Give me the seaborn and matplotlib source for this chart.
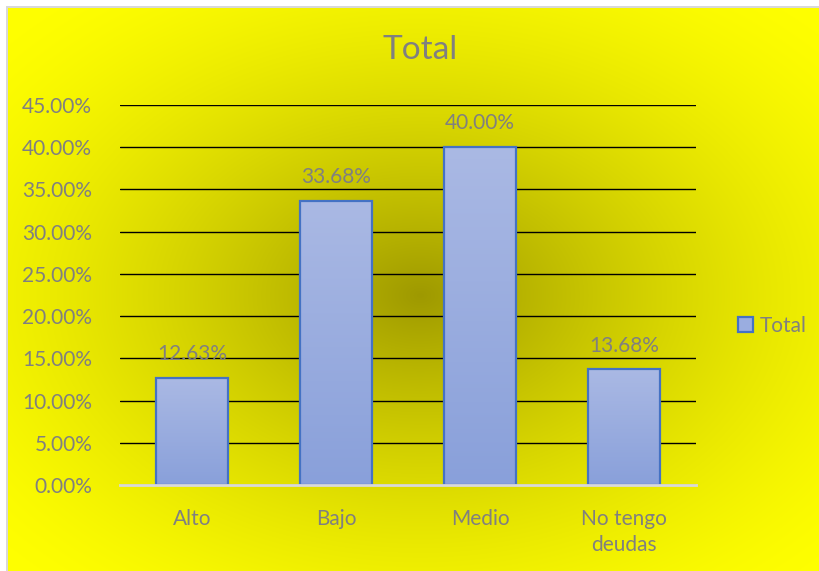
import numpy as np
import pandas as pd
import matplotlib
matplotlib.use("Agg")
import matplotlib.pyplot as plt
import seaborn as sns
from matplotlib.patches import Patch
from matplotlib.ticker import FuncFormatter, MultipleLocator

# Data
categories = ["Alto", "Bajo", "Medio", "No tengo\ndeudas"]
values = [0.1263, 0.3368, 0.4000, 0.1368]
series_name = "Total"

df = pd.DataFrame({"categoria": categories, "valor": values})

sns.set_theme(style="white")
plt.rcParams["font.family"] = ["Lato", "DejaVu Sans"]

W, H = 819, 571
fig = plt.figure(figsize=(W / 100, H / 100), dpi=100)
fig.patch.set_facecolor("white")

# Chart-area background: radial olive-to-yellow fill with a thin frame
bg = fig.add_axes([0, 0, 1, 1], zorder=-5)
yy, xx = np.mgrid[0:H, 0:W].astype(float)
cx, cy = 420.0, 295.0
r = np.sqrt(((xx - cx) / 410.0) ** 2 + ((yy - cy) / 285.0) ** 2) / np.sqrt(2)
r = np.clip(r, 0, 1)
t = 1 - (1 - r) ** 1.6
dark = np.array([0.62, 0.60, 0.0])
light = np.array([1.0, 1.0, 0.0])
img = dark[None, None, :] * (1 - t[..., None]) + light[None, None, :] * t[..., None]
img[:6, :, :] = 1.0
img[:, :6, :] = 1.0
img[6:8, 6:, :] = 0.85
img[6:, 6:8, :] = 0.85
bg.imshow(img, extent=[0, W, H, 0], aspect="auto", interpolation="bilinear")
bg.set_xlim(0, W)
bg.set_ylim(H, 0)
bg.axis("off")

# Plot area
ax = fig.add_axes([120 / W, 1 - 485 / H, 576 / W, 380 / H])
ax.patch.set_alpha(0)
sns.barplot(data=df, x="categoria", y="valor", ax=ax, width=0.5,
            color="#9aade0", edgecolor="#4472c4", linewidth=1.6, zorder=2)

ax.set_xlim(-0.5, 3.5)
ax.set_ylim(0, 0.45)
ax.yaxis.set_major_locator(MultipleLocator(0.05))
ax.yaxis.set_major_formatter(FuncFormatter(lambda v, p: f"{v * 100:.2f}%"))
ax.set_axisbelow(True)
ax.grid(axis="y", color="black", linewidth=1.0, zorder=0)
ax.grid(axis="x", visible=False)
for s in ["top", "right", "left"]:
    ax.spines[s].set_visible(False)
ax.spines["bottom"].set_color("#d9d9d9")
ax.spines["bottom"].set_linewidth(2.0)
ax.spines["bottom"].set_zorder(3)
ax.tick_params(axis="both", length=0, labelsize=15, colors="#808080")
ax.tick_params(axis="y", pad=20)
ax.tick_params(axis="x", pad=17)
ax.set_xlabel("")
ax.set_ylabel("")
for lbl in ax.get_xticklabels():
    lbl.set_linespacing(1.4)
    lbl.set_verticalalignment("top")

# Vertical gradient inside each bar
grad = np.linspace(0, 1, 256)[:, None]
top_c = np.array([0.667, 0.725, 0.894])
bot_c = np.array([0.537, 0.627, 0.855])
bar_img = top_c[None, None, :] * (1 - grad[..., None]) + bot_c[None, None, :] * grad[..., None]
for p in ax.patches:
    x0, y0 = p.get_x(), p.get_y()
    w, h = p.get_width(), p.get_height()
    im = ax.imshow(bar_img, extent=[x0, x0 + w, y0, y0 + h], aspect="auto",
                   origin="upper", zorder=1.5, interpolation="bilinear")
    im.set_clip_path(p)
    p.set_facecolor("none")
    p.set_zorder(2)

# Value labels
for i, v in enumerate(values):
    ax.annotate(f"{v * 100:.2f}%", xy=(i, v), xytext=(0, 10),
                textcoords="offset points", ha="center", va="bottom",
                fontsize=15, color="#808080", zorder=4)

ax.set_xlim(-0.5, 3.5)
ax.set_ylim(0, 0.45)

# Title
fig.text(420 / W, 1 - 50 / H, "Total", ha="center", va="center",
         fontsize=24, color="#808080")

# Legend
handle = Patch(facecolor="#9aade0", edgecolor="#4472c4", linewidth=1.6, label=series_name)
fig.legend(handles=[handle], loc="center", bbox_to_anchor=(772 / W, 1 - 326 / H),
           frameon=False, fontsize=15, labelcolor="#808080",
           handlelength=0.75, handleheight=0.75, handletextpad=0.3, borderpad=0)

fig.savefig("out.png", dpi=100)
